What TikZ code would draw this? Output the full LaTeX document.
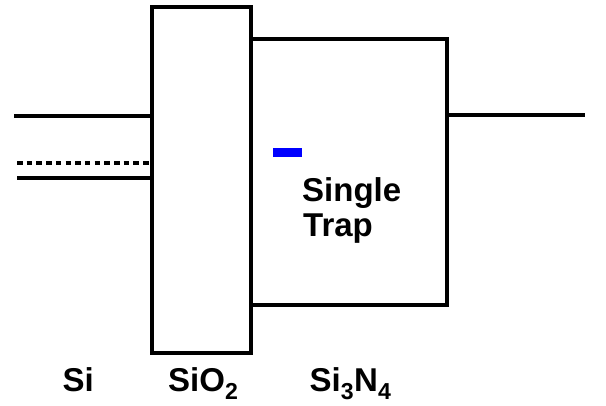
\documentclass[tikz,border=0pt]{standalone}
\usepackage{fontspec}
\setmainfont{Liberation Sans}
\begin{document}
\begin{tikzpicture}[x=1pt,y=-1pt,
  band/.style={line width=4pt,black},
  dotband/.style={line width=4pt,black,dash pattern=on 5.5pt off 4.2pt},
  lbl/.style={font=\fontsize{33}{38}\selectfont\bfseries,inner sep=0pt,anchor=base west},
  trapmark/.style={fill=blue,draw=none}]
\useasboundingbox (0,0) rectangle (606,406);
% oxide box
\draw[band] (152,7) rectangle (251,353);
% nitride
\draw[band] (251,39.5) -- (447,39.5) -- (447,305.5) -- (251,305.5);
% silicon bands
\coordinate (siC0) at (14,116.5);
\coordinate (siC1) at (150,116.5);
\coordinate (siF0) at (17,163.5);
\coordinate (siF1) at (150,163.5);
\coordinate (siV0) at (17,178.5);
\coordinate (siV1) at (150,178.5);
\draw[band] (siC0) -- (siC1);
\draw[dotband] (siF0) -- (siF1);
\draw[band] (siV0) -- (siV1);
% gate
\coordinate (g0) at (449,115);
\coordinate (g1) at (585,115);
\draw[band] (g0) -- (g1);
% trap
\fill[trapmark] (273,148) rectangle (302,157.5);
\node[lbl] (single) at (302,202) {Single};
\node[lbl] (trap) at (303,237) {Trap};
% labels
\node[lbl] (si) at (62.5,392) {Si};
\node[lbl] (sio2) at (168,392) {SiO\textsubscript{2}};
\node[lbl] (sin) at (309.5,392) {Si\textsubscript{3}N\textsubscript{4}};
\end{tikzpicture}
\end{document}
